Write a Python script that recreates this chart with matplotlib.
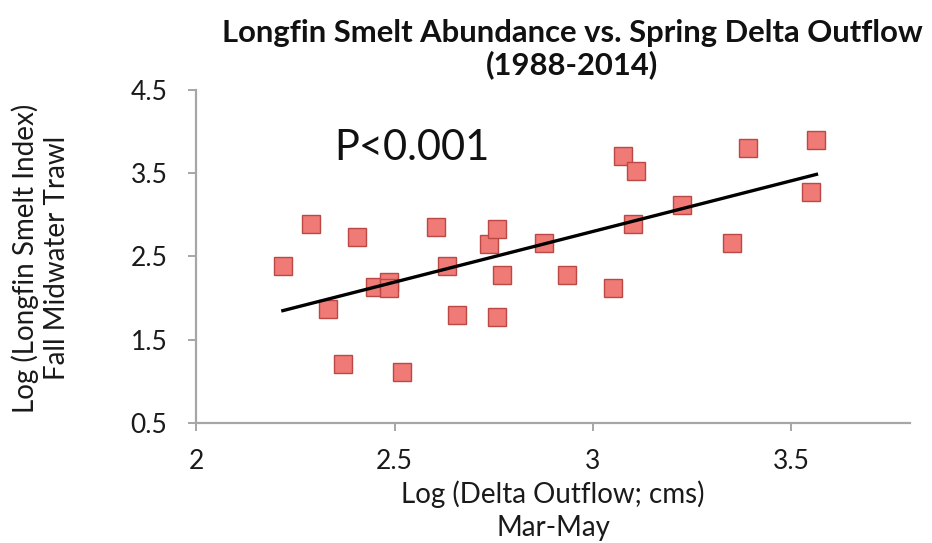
#Longfin smelt abundance vs spring delta outflow, scatter + linear trendline
import numpy as np
import matplotlib
matplotlib.use('Agg')
import matplotlib.pyplot as plt

# values (log scale both axes)
outflow = [2.218, 2.289, 2.331, 2.369, 2.404, 2.450, 2.485, 2.485, 2.518,
           2.604, 2.631, 2.657, 2.737, 2.757, 2.757, 2.770, 2.876, 2.934,
           3.052, 3.077, 3.110, 3.100, 3.226, 3.350, 3.392, 3.551, 3.564]
smelt = [2.386, 2.890, 1.869, 1.209, 2.734, 2.134, 2.194, 2.122, 1.113,
         2.854, 2.386, 1.797, 2.650, 2.830, 1.773, 2.278, 2.662, 2.278,
         2.122, 3.707, 3.527, 2.890, 3.119, 2.662, 3.803, 3.275, 3.899]
x_ticks = [2, 2.5, 3, 3.5]
y_ticks = [0.5, 1.5, 2.5, 3.5, 4.5]

plt.rcParams['font.family'] = ['Lato', 'DejaVu Sans']
GREY = '#a6a6a6'

fig = plt.figure(figsize=(9.32, 5.43), dpi=100)
ax = fig.add_axes([0.2108, 0.221, 0.7656, 0.6133])

# points
ax.plot(outflow, smelt, linestyle='none', marker='s', markersize=13,
        markerfacecolor='#f07a75', markeredgecolor='#bb4844', markeredgewidth=1, zorder=3)

# linear trendline over the data range
k, b = np.polyfit(outflow, smelt, 1)
xs = np.array([min(outflow), max(outflow)])
ax.plot(xs, k * xs + b, color='black', linewidth=2.4, zorder=4)

ax.text(2.543, 3.80, 'P<0.001', fontsize=30, ha='center', va='center', color='#111111')

ax.set_xlim(2, 3.8)
ax.set_ylim(0.5, 4.5)
ax.set_xticks(x_ticks)
ax.set_xticklabels(['2', '2.5', '3', '3.5'])
ax.set_yticks(y_ticks)
ax.set_yticklabels(['0.5', '1.5', '2.5', '3.5', '4.5'])

for s in ['top', 'right']:
    ax.spines[s].set_visible(False)
for s in ['left', 'bottom']:
    ax.spines[s].set_color(GREY)
    ax.spines[s].set_linewidth(1.6)
ax.tick_params(axis='both', direction='out', length=6, width=1.4, color=GREY,
               labelsize=19, labelcolor='#1a1a1a')
ax.tick_params(axis='x', pad=13)
ax.tick_params(axis='y', pad=15)

ax.set_xlabel('Log (Delta Outflow; cms)\nMar-May', fontsize=20, linespacing=1.32,
              color='#1a1a1a', va='top')
ax.xaxis.set_label_coords(0.5, -0.172)
ax.set_ylabel('Log (Longfin Smelt Index)\nFall Midwater Trawl', fontsize=20, linespacing=1.22,
              color='#1a1a1a', va='center')
ax.yaxis.set_label_coords(-0.218, 0.495)

fig.text(0.614, 0.9098, 'Longfin Smelt Abundance vs. Spring Delta Outflow\n(1988-2014)',
         fontsize=22.3, fontweight='bold', ha='center', va='center', linespacing=1.12,
         color='#111111')

plt.savefig('out.png', dpi=100)
